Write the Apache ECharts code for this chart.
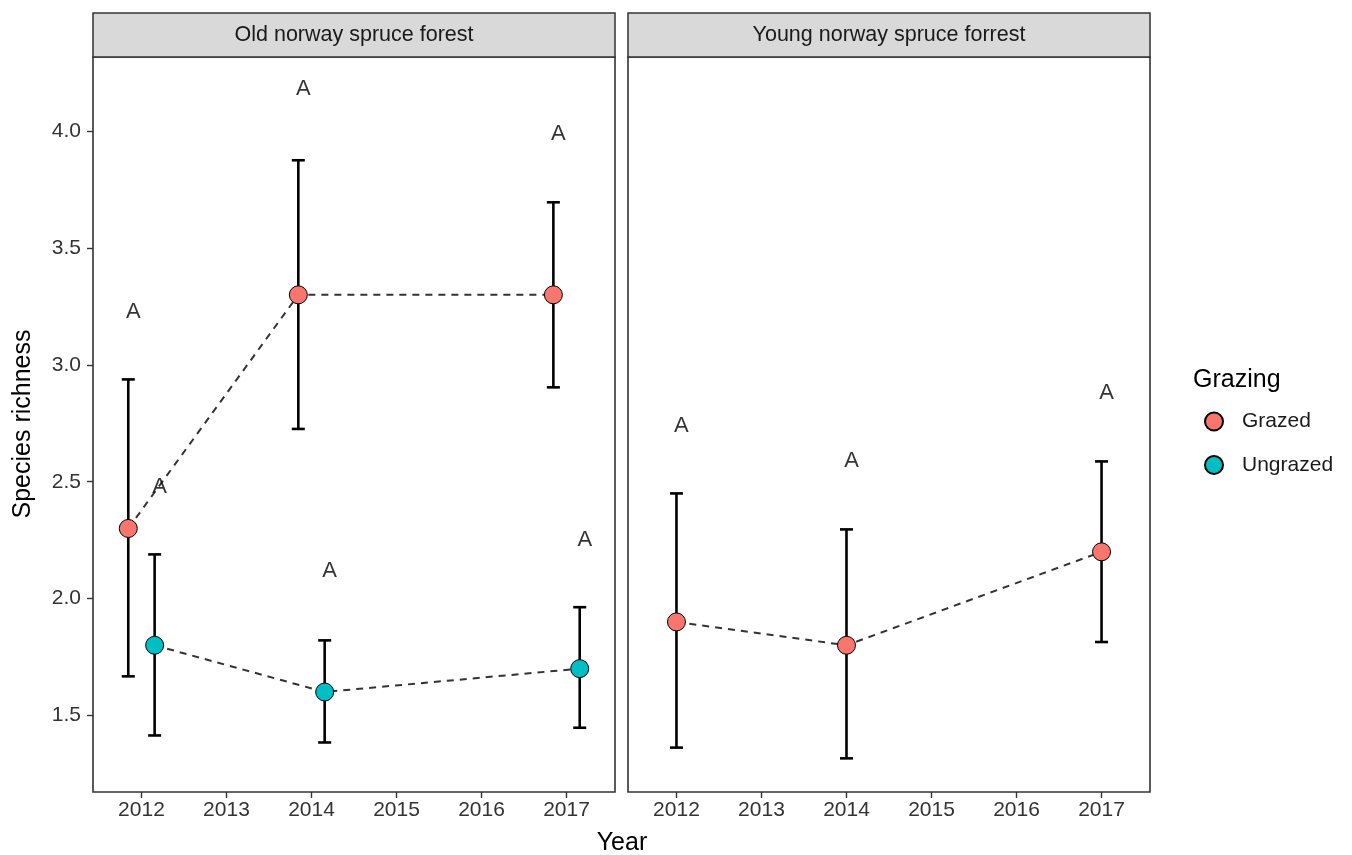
<!DOCTYPE html>
<html>
<head>
<meta charset="utf-8">
<script src="https://cdn.jsdelivr.net/npm/echarts@6/dist/echarts.min.js"></script>
<style>
html,body{margin:0;padding:0;background:#fff;}
#chart{width:1352px;height:855px;}
</style>
</head>
<body>
<div id="chart"></div>
<script>
// ---------- data ----------
const years = [2012, 2014, 2017];
const tickYears = [2012, 2013, 2014, 2015, 2016, 2017];
const yTicks = [1.5, 2.0, 2.5, 3.0, 3.5, 4.0];
const panels = ['Old norway spruce forest', 'Young norway spruce forrest'];
const groups = ['Grazed', 'Ungrazed'];

const oldGrazedMean = [2.3, 3.3, 3.3];
const oldGrazedLow = [1.667, 2.726, 2.904];
const oldGrazedHigh = [2.938, 3.876, 3.696];
const oldGrazedLetterY = [3.228, 4.18, 3.99];
const oldGrazedLetter = ['A', 'A', 'A'];

const oldUngrazedMean = [1.8, 1.6, 1.7];
const oldUngrazedLow = [1.414, 1.384, 1.447];
const oldUngrazedHigh = [2.189, 1.821, 1.963];
const oldUngrazedLetterY = [2.476, 2.12, 2.25];
const oldUngrazedLetter = ['A', 'A', 'A'];

const youngGrazedMean = [1.9, 1.8, 2.2];
const youngGrazedLow = [1.362, 1.316, 1.814];
const youngGrazedHigh = [2.45, 2.296, 2.587];
const youngGrazedLetterY = [2.74, 2.59, 2.88];
const youngGrazedLetter = ['A', 'A', 'A'];

const colors = {Grazed: '#F8766D', Ungrazed: '#00BFC4'};
const DODGE = 0.155;
const FONT = '"Liberation Sans", Arial, sans-serif';

// ---------- helpers ----------
function pts(ys, shift) { return years.map((x, i) => [x + shift, ys[i]]); }
function bars(lo, hi, shift) { return years.map((x, i) => [x + shift, lo[i], hi[i]]); }
function letters(ys, txt, shift) { return years.map((x, i) => ({value: [x + shift, ys[i]], label: {formatter: txt[i]}})); }

function errorRender(params, api) {
  const x = api.value(0), lo = api.value(1), hi = api.value(2);
  const a = api.coord([x, lo]), b = api.coord([x, hi]);
  const hw = 6.5;
  const st = {stroke: '#000', lineWidth: 2.6};
  return {type: 'group', children: [
    {type: 'line', shape: {x1: a[0], y1: a[1], x2: b[0], y2: b[1]}, style: st},
    {type: 'line', shape: {x1: a[0] - hw, y1: a[1], x2: a[0] + hw, y2: a[1]}, style: st},
    {type: 'line', shape: {x1: b[0] - hw, y1: b[1], x2: b[0] + hw, y2: b[1]}, style: st}
  ]};
}

function lineSeries(idx, ys, shift) {
  return {type: 'line', xAxisIndex: idx, yAxisIndex: idx, data: pts(ys, shift), symbol: 'none',
    lineStyle: {color: '#333', width: 2, type: [7, 6]}, z: 2, silent: true};
}
function errSeries(idx, lo, hi, shift) {
  return {type: 'custom', xAxisIndex: idx, yAxisIndex: idx, data: bars(lo, hi, shift),
    renderItem: errorRender, encode: {x: 0, y: [1, 2]}, z: 3, silent: true};
}
function pointSeries(idx, name, ys, shift) {
  return {type: 'scatter', name: name, xAxisIndex: idx, yAxisIndex: idx, data: pts(ys, shift),
    symbol: 'circle', symbolSize: 18,
    itemStyle: {color: colors[name], borderColor: '#000', borderWidth: 1, opacity: 1}, z: 4};
}
function letterSeries(idx, ys, txt, shift) {
  return {type: 'scatter', xAxisIndex: idx, yAxisIndex: idx, data: letters(ys, txt, shift),
    symbolSize: 1, itemStyle: {color: 'rgba(0,0,0,0)'}, z: 5, silent: true,
    label: {show: true, position: 'inside', offset: [5, 0], color: '#000', fontSize: 22, fontFamily: FONT}};
}

// ---------- layout ----------
const G = [
  {left: 93, top: 57, width: 522, height: 735},
  {left: 628, top: 57, width: 522, height: 735}
];
const XMIN = 2011.43, XMAX = 2017.57;
const YMIN = 1.172, YMAX = 4.318;

const chart = echarts.init(document.getElementById('chart'), null, {renderer: 'canvas'});

const xAxes = G.map((g, i) => ({
  type: 'value', gridIndex: i, min: XMIN, max: XMAX,
  axisLine: {show: false},
  splitLine: {show: false},
  axisTick: {show: true, customValues: tickYears, length: 6, lineStyle: {color: '#333', width: 1.4}},
  axisLabel: {customValues: tickYears, color: '#333', fontSize: 21, fontFamily: FONT, margin: 8,
    formatter: v => String(Math.round(v))}
}));
const yAxes = G.map((g, i) => ({
  type: 'value', gridIndex: i, min: YMIN, max: YMAX,
  axisLine: {show: false},
  splitLine: {show: false},
  axisTick: {show: i === 0, customValues: yTicks, length: 6, lineStyle: {color: '#333', width: 1.4}},
  axisLabel: {show: i === 0, customValues: yTicks, color: '#333', fontSize: 21, fontFamily: FONT, margin: 12,
    formatter: v => v.toFixed(1)}
}));

const graphics = [];
G.forEach((g, i) => {
  graphics.push({type: 'rect', shape: {x: g.left, y: 13, width: g.width, height: g.top - 13},
    style: {fill: '#d9d9d9', stroke: '#333', lineWidth: 1.5}, z: 10});
  graphics.push({type: 'text', x: g.left + g.width / 2, y: 35,
    style: {text: panels[i], fill: '#1a1a1a', font: '21.5px ' + FONT, textAlign: 'center', textVerticalAlign: 'middle'}, z: 11});
});
graphics.push({type: 'text', x: 622, y: 843,
  style: {text: 'Year', fill: '#000', font: '25px ' + FONT, textAlign: 'center', textVerticalAlign: 'middle'}});
graphics.push({type: 'text', x: 23, y: 424, rotation: Math.PI / 2,
  style: {text: 'Species richness', fill: '#000', font: '25px ' + FONT, textAlign: 'center', textVerticalAlign: 'middle'}});
graphics.push({type: 'text', x: 1193, y: 380,
  style: {text: 'Grazing', fill: '#000', font: '25px ' + FONT, textAlign: 'left', textVerticalAlign: 'middle'}});

const option = {
  animation: false,
  backgroundColor: '#fff',
  grid: G.map(g => Object.assign({show: true, borderColor: '#333', borderWidth: 1.6, backgroundColor: '#fff'}, g)),
  xAxis: xAxes,
  yAxis: yAxes,
  legend: {
    orient: 'vertical', left: 1204, top: 411, itemWidth: 18, itemHeight: 18, itemGap: 22.5,
    icon: 'circle', data: groups, padding: 0,
    textStyle: {fontSize: 21, lineHeight: 18, color: '#1a1a1a', fontFamily: FONT, padding: [0, 0, 0, 14]}
  },
  graphic: graphics,
  series: [
    lineSeries(0, oldGrazedMean, -DODGE),
    lineSeries(0, oldUngrazedMean, DODGE),
    lineSeries(1, youngGrazedMean, 0),
    errSeries(0, oldGrazedLow, oldGrazedHigh, -DODGE),
    errSeries(0, oldUngrazedLow, oldUngrazedHigh, DODGE),
    errSeries(1, youngGrazedLow, youngGrazedHigh, 0),
    pointSeries(0, 'Grazed', oldGrazedMean, -DODGE),
    pointSeries(0, 'Ungrazed', oldUngrazedMean, DODGE),
    pointSeries(1, 'Grazed', youngGrazedMean, 0),
    letterSeries(0, oldGrazedLetterY, oldGrazedLetter, -DODGE),
    letterSeries(0, oldUngrazedLetterY, oldUngrazedLetter, DODGE),
    letterSeries(1, youngGrazedLetterY, youngGrazedLetter, 0)
  ]
};
chart.setOption(option);
</script>
</body>
</html>
